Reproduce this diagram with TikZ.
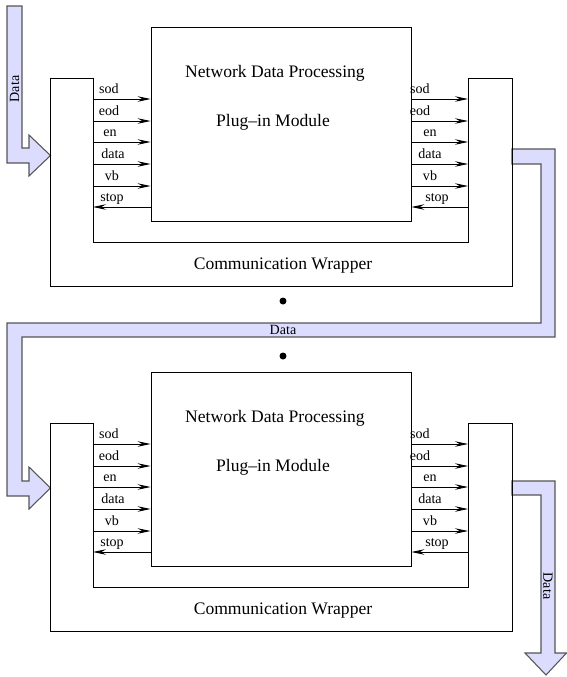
\documentclass[tikz,border=0pt]{standalone}
\usepackage{fontspec}
\setmainfont{Liberation Serif}
\usepackage{xcolor}
\definecolor{band_fill}{RGB}{220, 220, 255}
\definecolor{band_line}{RGB}{85, 85, 85}
\usepackage{tikz}
\usetikzlibrary{arrows.meta}

\begin{document}
\begin{tikzpicture}[x=0.02cm, y=-0.02cm,
        wrap/.style={draw=black, line width=0.5pt},
        module/.style={rectangle, draw=black, line width=0.5pt, inner sep=0pt,
                       minimum width=5.2cm, minimum height=3.88cm},
        title/.style={font=\normalsize, inner sep=0pt},
        sigin/.style={-{Stealth[length=2.6mm, width=1.1mm, inset=0.9mm]}, line width=0.5pt},
        sigout/.style={{Stealth[length=2.6mm, width=1.1mm, inset=0.9mm]}-, line width=0.5pt},
        lbl/.style={font=\footnotesize, inner sep=0pt, anchor=base},
        band/.style={draw=band_line, fill=band_fill, line width=0.6pt},
        dlbl/.style={font=\footnotesize, inner sep=0pt},
        dot/.style={circle, fill=black, inner sep=0pt, minimum size=0.14cm},
      ]
        \useasboundingbox (0,0) rectangle (567,677);

        \draw[band] (7,6) -- (22,6) -- (22,148) -- (29,148) -- (29,135) -- (50.5,155.5)
                    -- (29,176) -- (29,163) -- (7,163) -- cycle;
        \draw[band] (512,149) -- (555,149) -- (555,337) -- (22,337) -- (22,481) -- (29,481)
                    -- (29,467) -- (50.5,488) -- (29,509) -- (29,496) -- (7,496) -- (7,323)
                    -- (541,323) -- (541,164) -- (512,164) -- cycle;
        \draw[band] (512,481) -- (555,481) -- (555,653) -- (566.5,653) -- (546,675)
                    -- (525,653) -- (541,653) -- (541,495) -- (512,495) -- cycle;

        \node[dlbl, rotate=90]  (din)  at (14.5,89) {Data};
        \node[dlbl]             (dmid) at (283,330) {Data};
        \node[dlbl, rotate=-90] (dout) at (548,586) {Data};

        \foreach \m/\dy in {1/0, 2/345} {
          \draw[wrap] (50,78+\dy) -- (93,78+\dy) -- (93,242+\dy) -- (468,242+\dy)
                      -- (468,78+\dy) -- (512,78+\dy) -- (512,286+\dy) -- (50,286+\dy) -- cycle;
          \node[module] (box\m) at (281,124+\dy) {};
          \node[title] (ndp\m) at (275,73+\dy)  {Network Data Processing};
          \node[title] (pim\m) at (273,122+\dy) {Plug--in Module};
          \node[title] (cw\m)  at (283,266+\dy) {Communication Wrapper};
          \foreach \i/\y/\sig/\xl/\xr/\sty in {1/99/sod/109/420/sigin, 2/121/eod/109/420/sigin,
                3/142/en/110/430/sigin, 4/164/data/113/430/sigin, 5/186/vb/112/430/sigin,
                6/207/stop/112/437/sigout} {
            \coordinate (wl\m\i) at (93,\y+\dy);
            \coordinate (wr\m\i) at (468,\y+\dy);
            \draw[\sty] (wl\m\i) -- (wl\m\i -| box\m.west);
            \draw[\sty] (box\m.east |- wr\m\i) -- (wr\m\i);
            \node[lbl] (ll\m\i) at (\xl,\y+\dy-5.5) {\sig};
            \node[lbl] (lr\m\i) at (\xr,\y+\dy-5.5) {\sig};
          }
        }

        \node[dot] (dot1) at (283,301) {};
        \node[dot] (dot2) at (283,356) {};
      \end{tikzpicture}
\end{document}
